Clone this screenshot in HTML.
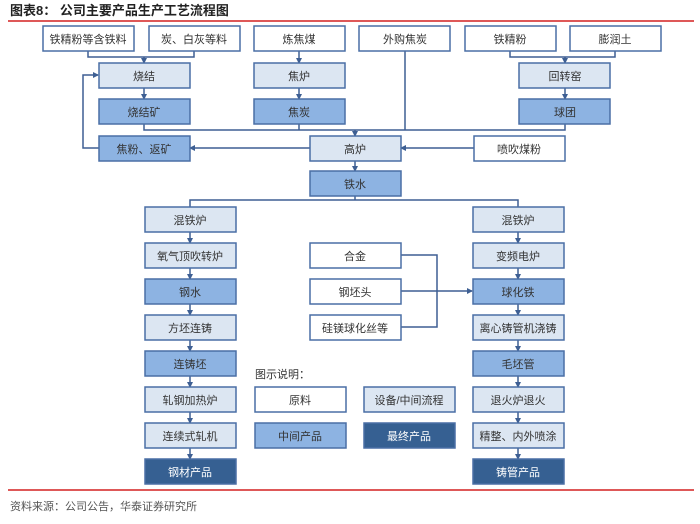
<!DOCTYPE html>
<html><head><meta charset="utf-8"><style>
body{margin:0;background:#fff;width:700px;height:519px;overflow:hidden}
svg text{font-family:"Liberation Sans","Noto Sans CJK SC",sans-serif;font-size:11px}
</style></head><body>
<svg width="700" height="519" viewBox="0 0 700 519" xmlns="http://www.w3.org/2000/svg">
<defs><marker id="a" markerWidth="6" markerHeight="6" refX="5" refY="3" orient="auto" markerUnits="userSpaceOnUse"><path d="M0,0 L6,3 L0,6z" fill="#3e5f93"/></marker></defs>
<text x="10" y="15" style="font-size:13px;font-weight:bold" fill="#222">图表8： 公司主要产品生产工艺流程图</text>
<line x1="8" y1="21" x2="694" y2="21" stroke="#d42020" stroke-width="1.5"/>
<line x1="8" y1="490" x2="694" y2="490" stroke="#d42020" stroke-width="1.5"/>
<text x="10" y="510" fill="#555" style="font-size:11px">资料来源：公司公告，华泰证券研究所</text>
<g stroke="#3e5f93" stroke-width="1.5" fill="none">
<polyline points="88,51 88,57 194,57 194,51"/><line x1="144" y1="57" x2="144" y2="63" marker-end="url(#a)"/>
<line x1="144" y1="88" x2="144" y2="99" marker-end="url(#a)"/>
<line x1="299" y1="51" x2="299" y2="63" marker-end="url(#a)"/>
<line x1="299" y1="88" x2="299" y2="99" marker-end="url(#a)"/>
<polyline points="510,51 510,57 615,57 615,51"/><line x1="565" y1="57" x2="565" y2="63" marker-end="url(#a)"/>
<line x1="565" y1="88" x2="565" y2="99" marker-end="url(#a)"/>
<polyline points="144,124 144,130 565,130 565,124"/>
<line x1="299" y1="124" x2="299" y2="130"/><line x1="405" y1="51" x2="405" y2="130"/>
<line x1="355" y1="130" x2="355" y2="136" marker-end="url(#a)"/>
<line x1="310" y1="148" x2="190" y2="148" marker-end="url(#a)"/>
<line x1="474" y1="148" x2="401" y2="148" marker-end="url(#a)"/>
<polyline points="99,148 83,148 83,75 98,75" marker-end="url(#a)"/>
<line x1="355" y1="161" x2="355" y2="171" marker-end="url(#a)"/>
<polyline points="355,196 355,200"/><polyline points="190,207 190,200 518,200 518,207"/>
<polyline points="400,255 437,255 437,327 400,327"/>
<line x1="400" y1="291" x2="472" y2="291" marker-end="url(#a)"/>
<g id="arr">
<line x1="190" y1="232" x2="190" y2="243" marker-end="url(#a)"/>
<line x1="190" y1="268" x2="190" y2="279" marker-end="url(#a)"/>
<line x1="190" y1="304" x2="190" y2="315" marker-end="url(#a)"/>
<line x1="190" y1="340" x2="190" y2="351" marker-end="url(#a)"/>
<line x1="190" y1="376" x2="190" y2="387" marker-end="url(#a)"/>
<line x1="190" y1="412" x2="190" y2="423" marker-end="url(#a)"/>
<line x1="190" y1="448" x2="190" y2="459" marker-end="url(#a)"/>
</g>
<use href="#arr" x="328"/>
</g>
<g stroke="#4a6fa5" stroke-width="1.5">
<!-- white -->
<g fill="#fff">
<rect x="43" y="26" width="91" height="25"/><rect x="149" y="26" width="91" height="25"/>
<rect x="254" y="26" width="91" height="25"/><rect x="359" y="26" width="91" height="25"/>
<rect x="465" y="26" width="91" height="25"/><rect x="570" y="26" width="91" height="25"/>
<rect x="474" y="136" width="91" height="25"/>
<rect x="310" y="243" width="91" height="25"/><rect x="310" y="279" width="91" height="25"/><rect x="310" y="315" width="91" height="25"/>
<rect x="255" y="387" width="91" height="25"/>
</g>
<g fill="#dce6f2">
<rect x="99" y="63" width="91" height="25"/><rect x="254" y="63" width="91" height="25"/><rect x="519" y="63" width="91" height="25"/>
<rect x="310" y="136" width="91" height="25"/>
<rect x="145" y="207" width="91" height="25"/><rect x="145" y="243" width="91" height="25"/><rect x="145" y="315" width="91" height="25"/><rect x="145" y="387" width="91" height="25"/><rect x="145" y="423" width="91" height="25"/>
<rect x="473" y="207" width="91" height="25"/><rect x="473" y="243" width="91" height="25"/><rect x="473" y="315" width="91" height="25"/><rect x="473" y="387" width="91" height="25"/><rect x="473" y="423" width="91" height="25"/>
<rect x="364" y="387" width="91" height="25"/>
</g>
<g fill="#8db3e2">
<rect x="99" y="99" width="91" height="25"/><rect x="254" y="99" width="91" height="25"/><rect x="519" y="99" width="91" height="25"/>
<rect x="99" y="136" width="91" height="25"/><rect x="310" y="171" width="91" height="25"/>
<rect x="145" y="279" width="91" height="25"/><rect x="145" y="351" width="91" height="25"/>
<rect x="473" y="279" width="91" height="25"/><rect x="473" y="351" width="91" height="25"/>
<rect x="255" y="423" width="91" height="25"/>
</g>
<g fill="#366092">
<rect x="145" y="459" width="91" height="25"/><rect x="473" y="459" width="91" height="25"/><rect x="364" y="423" width="91" height="25"/>
</g>
</g>
<g text-anchor="middle" fill="#333">
<text x="88" y="43">铁精粉等含铁料</text><text x="194" y="43">炭、白灰等料</text><text x="299" y="43">炼焦煤</text><text x="405" y="43">外购焦炭</text><text x="510" y="43">铁精粉</text><text x="615" y="43">膨润土</text>
<text x="144" y="80">烧结</text><text x="299" y="80">焦炉</text><text x="565" y="80">回转窑</text>
<text x="144" y="116">烧结矿</text><text x="299" y="116">焦炭</text><text x="565" y="116">球团</text>
<text x="144" y="153">焦粉、返矿</text><text x="355" y="153">高炉</text><text x="519" y="153">喷吹煤粉</text>
<text x="355" y="188">铁水</text>
<text x="190" y="224">混铁炉</text><text x="190" y="260">氧气顶吹转炉</text><text x="190" y="296">钢水</text><text x="190" y="332">方坯连铸</text><text x="190" y="368">连铸坯</text><text x="190" y="404">轧钢加热炉</text><text x="190" y="440">连续式轧机</text>
<text x="518" y="224">混铁炉</text><text x="518" y="260">变频电炉</text><text x="518" y="296">球化铁</text><text x="518" y="332">离心铸管机浇铸</text><text x="518" y="368">毛坯管</text><text x="518" y="404">退火炉退火</text><text x="518" y="440">精整、内外喷涂</text>
<text x="355" y="260">合金</text><text x="355" y="296">钢坯头</text><text x="355" y="332">硅镁球化丝等</text>
<text x="300" y="404">原料</text><text x="409" y="404">设备/中间流程</text><text x="300" y="440">中间产品</text>
</g>
<g text-anchor="middle" fill="#fff">
<text x="190" y="476">钢材产品</text><text x="518" y="476">铸管产品</text><text x="409" y="440">最终产品</text>
</g>
<text x="255" y="378" fill="#333">图示说明：</text>
</svg>
</body></html>
